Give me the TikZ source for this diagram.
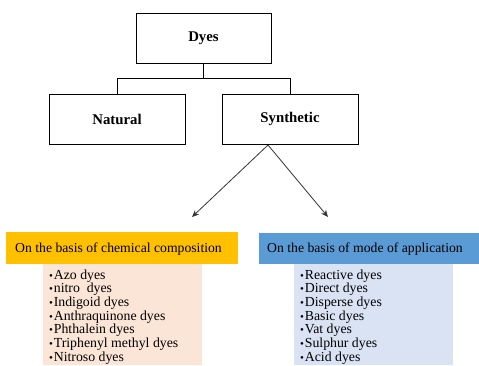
\documentclass[tikz,border=0pt]{standalone}
\usepackage{fontspec}
\setmainfont{Liberation Serif}
\usetikzlibrary{arrows.meta}
\definecolor{hdrorange}{HTML}{FFC000}
\definecolor{lstpeach}{HTML}{FBE5D6}
\definecolor{hdrblue}{HTML}{5B9BD5}
\definecolor{lstblue}{HTML}{DAE3F3}
\definecolor{linegray}{HTML}{333333}
\tikzset{
  topbox/.style={draw=black, line width=0.9pt, minimum width=135pt, minimum height=50pt, inner sep=0pt, font=\fontsize{14.8}{16}\selectfont\bfseries},
  hdr/.style={anchor=base west, inner sep=0pt, font=\fontsize{13.7}{15}\selectfont},
  item/.style={anchor=base west, inner sep=0pt, font=\fontsize{13.8}{14}\selectfont},
  tree/.style={draw=black, line width=0.9pt},
  arr/.style={draw=linegray, line width=0.8pt, -{Stealth[length=7pt,width=6pt]}}
}
\newcommand{\itembul}{{\fontsize{11}{11}\selectfont\textbullet}\kern0.8pt}
\begin{document}
\begin{tikzpicture}[x=1pt,y=-1pt]
\useasboundingbox (0,0) rectangle (479,365);
% top boxes
\node[topbox] (dyes) at (203.5,38) {Dyes};
\node[topbox, minimum width=136pt] (natural) at (117,119) {Natural};
\node[topbox, minimum width=136pt] (synthetic) at (290,119) {Synthetic};
\draw[tree] (dyes.south) -- ++(0,15) -| (natural.north);
\draw[tree] (dyes.south) -- ++(0,15) -| (synthetic.north);
% arrows
\coordinate (split) at (268,145);
\coordinate (tipL) at (192,217);
\coordinate (tipR) at (328,217);
\draw[arr] (split) -- (tipL);
\draw[arr] (split) -- (tipR);
% header and list backgrounds
\fill[lstpeach] (43,264) rectangle (202,365);
\fill[lstblue] (294,264) rectangle (453,365);
\fill[hdrorange] (6,232) rectangle (238,264);
\fill[hdrblue] (259,233) rectangle (479,264);
\node[hdr] (hdrL) at (15,252) {On the basis of chemical composition};
\node[hdr] (hdrR) at (267,252) {On the basis of mode of application};
% lists
\foreach \t [count=\i] in {Azo dyes, nitro\ \ dyes, Indigoid dyes, Anthraquinone dyes, Phthalein dyes, Triphenyl methyl dyes, Nitroso dyes}
  \node[item] (l\i) at (49,{279+13.7*(\i-1)}) {\itembul\t};
\foreach \t [count=\i] in {Reactive dyes, Direct dyes, Disperse dyes, Basic dyes, Vat dyes, Sulphur dyes, Acid dyes}
  \node[item] (r\i) at (300,{279+13.7*(\i-1)}) {\itembul\t};
\end{tikzpicture}
\end{document}
